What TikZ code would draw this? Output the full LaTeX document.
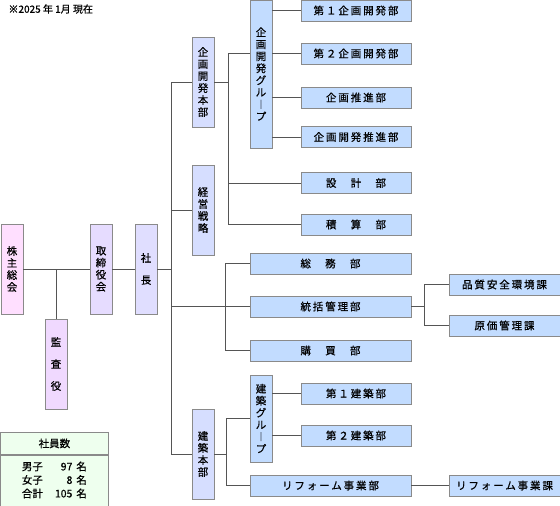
\documentclass[tikz,border=0pt]{standalone}
\usepackage{fontspec}
\setmainfont{Noto Sans CJK JP}[FakeBold=0.6]
\newfontfamily\jpls[LetterSpace=18,FakeBold=0.6]{Noto Sans CJK JP}
\usetikzlibrary{calc}
\definecolor{kabuFill}{HTML}{FFDFFF}
\definecolor{toriFill}{HTML}{E6DCFF}
\definecolor{shachoFill}{HTML}{E0DEFF}
\definecolor{kansaFill}{HTML}{F0D9FF}
\definecolor{honbuFill}{HTML}{D6DEFF}
\definecolor{deptBlue}{HTML}{C2DCFF}
\definecolor{boxLine}{HTML}{8A8A8A}
\definecolor{lineGray}{HTML}{555555}
\definecolor{tblFill}{HTML}{EEFFEE}
\begin{document}
\begin{tikzpicture}[x=1pt,y=-1pt,
    box/.style={draw=boxLine,line width=0.8pt,inner sep=0pt,align=center,
      font=\fontsize{10.5}{12}\selectfont},
    tate/.style={box,minimum width=22pt},
    dept/.style={box,fill=deptBlue,minimum height=21pt,
      font=\jpls\fontsize{10.5}{12}\selectfont},
    link/.style={draw=lineGray,line width=0.8pt}]
    \useasboundingbox (0,0) rectangle (560,506);

    \node[anchor=west,font=\fontsize{10}{12}\selectfont] (date) at (5,9) {※2025 年 1月 現在};

    \node[tate,fill=kabuFill,minimum height=90pt] (kabu) at (12,269) {株\\主\\総\\会};
    \node[tate,fill=toriFill,minimum height=90pt] (tori) at (101,269) {取\\締\\役\\会};
    \node[tate,fill=shachoFill,minimum height=90pt] (shacho) at (146,269) {社\\[10pt]長};
    \node[tate,fill=kansaFill,minimum height=90pt] (kansa) at (56,364) {監\\[10pt]査\\[10pt]役};

    \node[tate,fill=honbuFill,minimum height=90pt] (kikakuHQ) at (203,82) {企\\画\\開\\発\\本\\部};
    \node[tate,fill=honbuFill,minimum height=90pt] (keiei) at (203,210) {経\\営\\戦\\略};
    \node[tate,fill=honbuFill,minimum height=90pt] (kenchikuHQ) at (203,454) {建\\築\\本\\部};

    \node[tate,fill=deptBlue,minimum height=148pt] (kikakuGrp) at (261,74) {企\\画\\開\\発\\グ\\ル\\︱\\プ};
    \node[tate,fill=deptBlue,minimum height=87pt] (kenchikuGrp) at (261,418.5) {建\\築\\グ\\ル\\︱\\プ};

    \node[dept,minimum width=110pt] (dai1kikaku) at (356,10.5) {第１企画開発部};
    \node[dept,minimum width=110pt] (dai2kikaku) at (356,53.5) {第２企画開発部};
    \node[dept,minimum width=110pt] (suishin) at (356,97.5) {企画推進部};
    \node[dept,minimum width=110pt] (kaihatsu) at (356,137) {企画開発推進部};
    \node[dept,minimum width=110pt] (sekkei) at (356,183) {設　計　部};
    \node[dept,minimum width=110pt] (sekisan) at (356,224.5) {積　算　部};
    \node[dept,minimum width=110pt] (dai1kenchiku) at (356,393.5) {第１建築部};
    \node[dept,minimum width=110pt] (dai2kenchiku) at (356,435.5) {第２建築部};

    \node[dept,minimum width=161pt] (somu) at (330.5,263.5) {総　務　部};
    \node[dept,minimum width=161pt] (tokatsu) at (330.5,306.5) {統括管理部};
    \node[dept,minimum width=161pt] (kobai) at (330.5,350.5) {購　買　部};
    \node[dept,minimum width=161pt] (reform) at (330.5,485.5) {リフォーム事業部};

    \node[dept,minimum width=111pt] (hinshitsu) at (504.5,284.5) {品質安全環境課};
    \node[dept,minimum width=111pt] (genka) at (504.5,325.5) {原価管理課};
    \node[dept,minimum width=111pt] (reformKa) at (504.5,485.5) {リフォーム事業課};

    \node[box,fill=tblFill,minimum width=108pt,minimum height=22pt,anchor=north west] (staffHd) at (0,432) {社員数};
    \node[box,fill=tblFill,minimum width=108pt,minimum height=52pt,anchor=north] (staff) at (staffHd.south) {%
      \fontsize{10.5}{13.5}\selectfont
      \begin{tabular}{@{}l@{\hspace{12pt}}r@{\hspace{4pt}}l@{}}
        男子 & 97 & 名\\
        女子 & 8 & 名\\
        合計 & 105 & 名
      \end{tabular}};

    \draw[link] (kabu) -- (tori);
    \draw[link] (tori) -- (shacho);
    \draw[link] (kansa) -- (kansa |- kabu);

    \draw[link] (shacho.east) -- ++(14,0) coordinate (trunk);
    \draw[link] (trunk) |- (kikakuHQ);
    \draw[link] (trunk) |- (keiei);
    \draw[link] (trunk) |- (tokatsu);
    \draw[link] (trunk) |- (kenchikuHQ);

    \draw[link] (kikakuHQ.east) -- ++(14,0) coordinate (j1);
    \draw[link] (j1) |- (kikakuGrp.west |- dai2kikaku);
    \draw[link] (j1) |- (sekkei);
    \draw[link] (j1) |- (sekisan);
    \foreach \n in {dai1kikaku,dai2kikaku,suishin,kaihatsu}
      \draw[link] (kikakuGrp.east |- \n) -- (\n);

    \draw[link] (tokatsu.west) ++(-24,0) coordinate (j3);
    \draw[link] (j3) |- (somu);
    \draw[link] (j3) |- (kobai);

    \draw[link] (tokatsu.east) -- ++(13,0) coordinate (j4);
    \draw[link] (j4) |- (hinshitsu);
    \draw[link] (j4) |- (genka);

    \draw[link] (kenchikuHQ.east) -- ++(12,0) coordinate (j2);
    \draw[link] (j2) |- (kenchikuGrp);
    \draw[link] (j2) |- (reform);
    \foreach \n in {dai1kenchiku,dai2kenchiku}
      \draw[link] (kenchikuGrp.east |- \n) -- (\n);
    \draw[link] (reform) -- (reformKa);
\end{tikzpicture}
\end{document}
